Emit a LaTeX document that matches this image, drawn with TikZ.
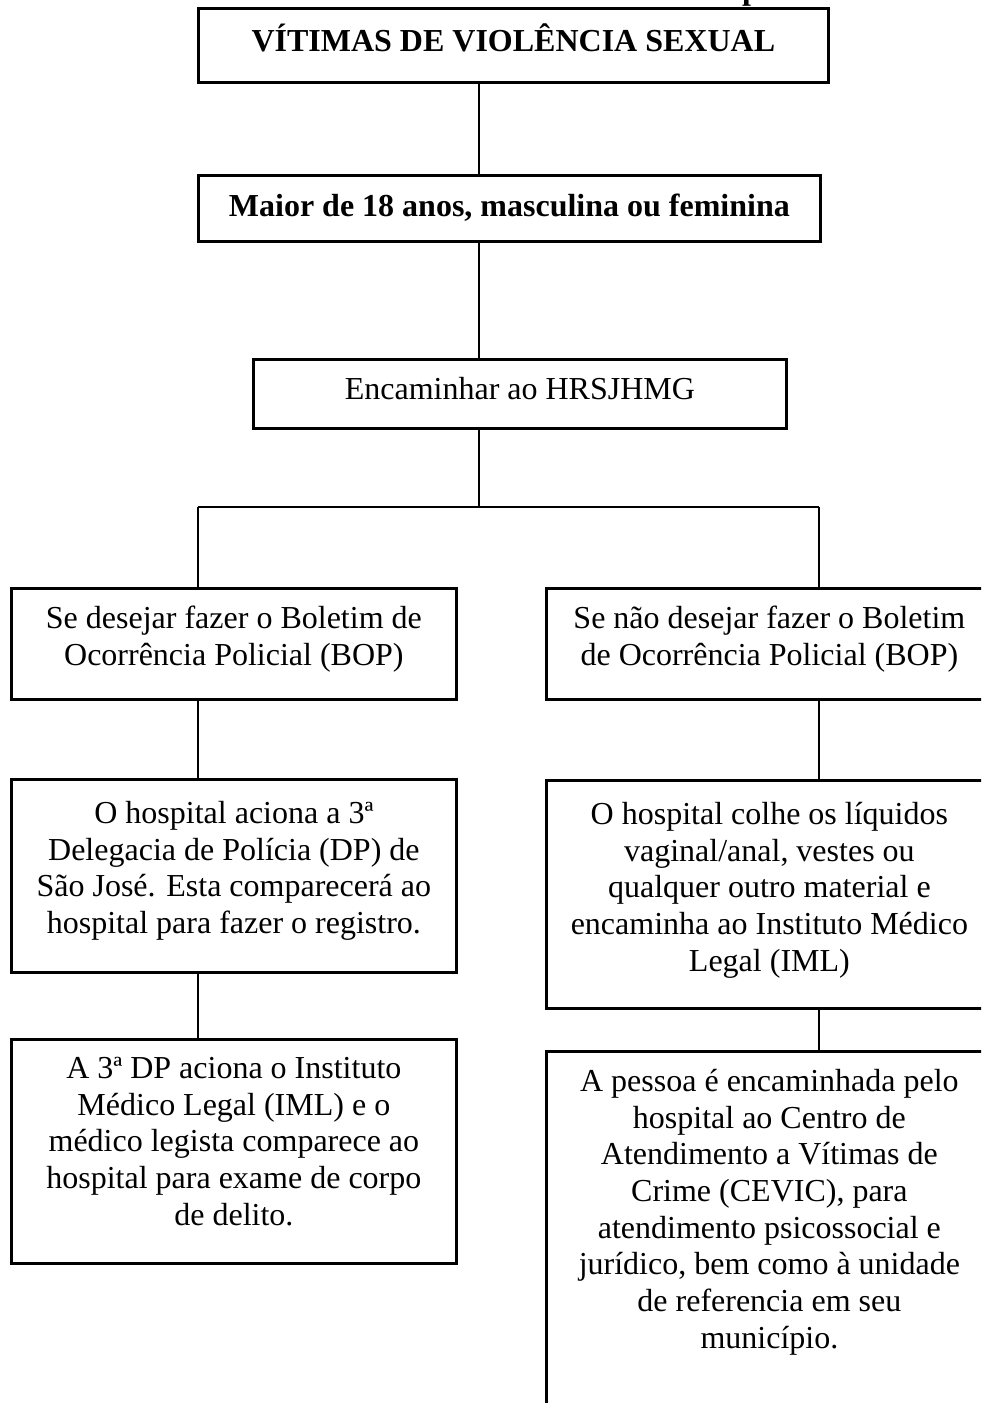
\documentclass[tikz,border=0pt]{standalone}
\usepackage{fontspec}
\setmainfont{Liberation Serif}
\newlength\pxu
\setlength\pxu{0.4pt}
\newcommand{\bodyfnt}{\fontsize{12.8pt}{14.68pt}\selectfont}
\newcommand{\titlefnt}{\fontsize{12.8pt}{14.68pt}\selectfont\bfseries}
\newcommand{\bx}[4]{\parbox[c][#1\pxu][t]{#2\pxu}{\centering\rule{0pt}{#3\pxu}#4}}
\tikzset{
  boxstyle/.style={draw, line width=1.1pt, inner sep=0pt, anchor=north west, font=\bodyfnt},
  link/.style={line width=0.55pt},
}
\begin{document}
\begin{tikzpicture}[x=0.4pt,y=-0.4pt]
\clip (0,0) rectangle (981,1403);
\fill[white] (0,0) rectangle (981,1403);
% clipped fragment of a line above
\node[anchor=base, inner sep=0pt, font=\titlefnt] (frag) at (751,0) {p};
% boxes
\node[boxstyle, font=\titlefnt] (b1) at (197,7) {\bx{74}{630}{43}{VÍTIMAS DE VIOLÊNCIA SEXUAL}};
\node[boxstyle] (b2) at (197,174) {\bx{66}{622}{41}{\textbf{Maior de 18 anos, masculina ou feminina}}};
\node[boxstyle] (b3) at (252,358) {\bx{69}{533}{40}{Encaminhar ao HRSJHMG}};
\node[boxstyle] (b4) at (10,587) {\bx{111}{445}{40}{Se desejar fazer o Boletim de\\Ocorrência Policial (BOP)}};
\node[boxstyle] (b5) at (545,587) {\bx{111}{446}{40}{Se não desejar fazer o Boletim\\de Ocorrência Policial (BOP)}};
\node[boxstyle] (b6) at (10,778) {\bx{193}{445}{44}{O hospital aciona a 3ª\\Delegacia de Polícia (DP) de\\São José. Esta comparecerá ao\\hospital para fazer o registro.}};
\node[boxstyle] (b7) at (545,779) {\bx{228}{446}{44}{O hospital colhe os líquidos\\vaginal/anal, vestes ou\\qualquer outro material e\\encaminha ao Instituto Médico\\Legal (IML)}};
\node[boxstyle] (b8) at (10,1038) {\bx{224}{445}{39}{A 3ª DP aciona o Instituto\\Médico Legal (IML) e o\\médico legista comparece ao\\hospital para exame de corpo\\de delito.}};
\node[boxstyle] (b9) at (545,1050) {\bx{380}{446}{40}{A pessoa é encaminhada pelo\\hospital ao Centro de\\Atendimento a Vítimas de\\Crime (CEVIC), para\\atendimento psicossocial e\\jurídico, bem como à unidade\\de referencia em seu\\município.}};
% connectors
\coordinate (spine) at (479,507);
\coordinate (jl) at (198,507);
\coordinate (jr) at (819,507);
\draw[link] (b1.south -| spine) -- (b2.north -| spine);
\draw[link] (b2.south -| spine) -- (b3.north -| spine);
\draw[link] (b3.south -| spine) -- (spine);
\draw[link] (jl) -- (jr);
\draw[link] (jl) -- (b4.north -| jl);
\draw[link] (jr) -- (b5.north -| jr);
\draw[link] (b4.south -| jl) -- (b6.north -| jl);
\draw[link] (b6.south -| jl) -- (b8.north -| jl);
\draw[link] (b5.south -| jr) -- (b7.north -| jr);
\draw[link] (b7.south -| jr) -- (b9.north -| jr);
\end{tikzpicture}
\end{document}
